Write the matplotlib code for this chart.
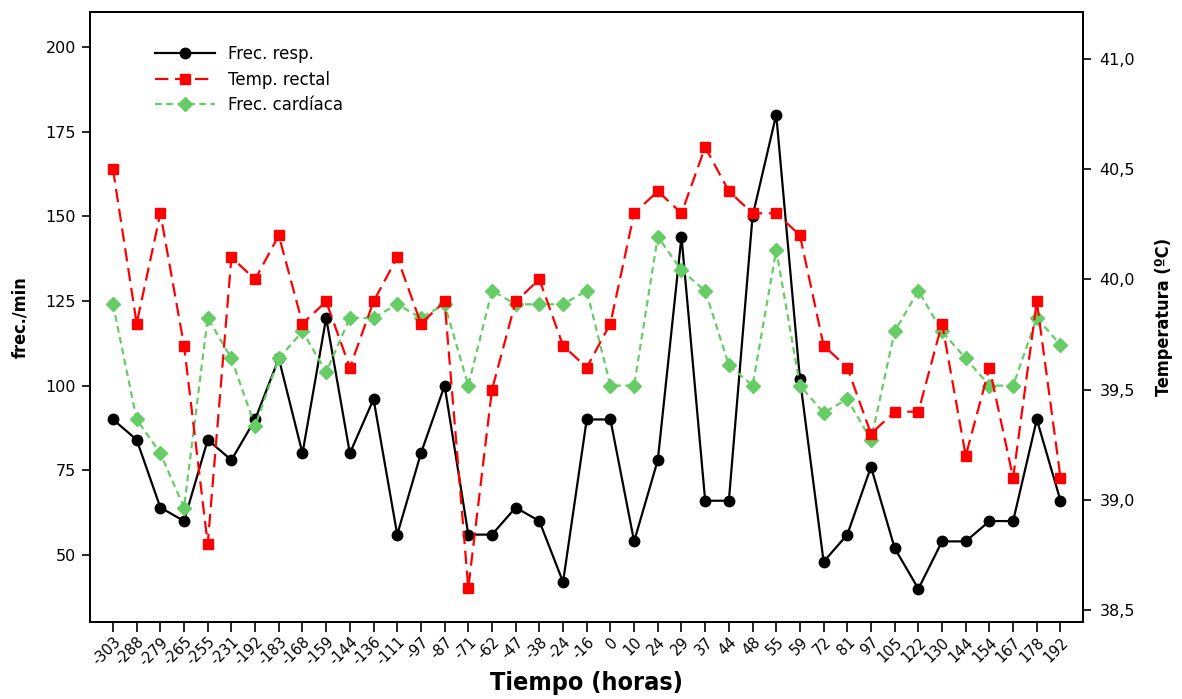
import matplotlib
matplotlib.use("Agg")
import matplotlib.pyplot as plt
from matplotlib.ticker import FuncFormatter

# hours relative to event (categorical axis)
tiempo = ["-303", "-288", "-279", "-265", "-255", "-231", "-192", "-183", "-168", "-159",
          "-144", "-136", "-111", "-97", "-87", "-71", "-62", "-47", "-38", "-24",
          "-16", "0", "10", "24", "29", "37", "44", "48", "55", "59",
          "72", "81", "97", "105", "122", "130", "144", "154", "167", "178", "192"]

frec_resp = [90, 84, 64, 60, 84, 78, 90, 108, 80, 120,
             80, 96, 56, 80, 100, 56, 56, 64, 60, 42,
             90, 90, 54, 78, 144, 66, 66, 150, 180, 102,
             48, 56, 76, 52, 40, 54, 54, 60, 60, 90, 66]

temp_rectal = [40.5, 39.8, 40.3, 39.7, 38.8, 40.1, 40.0, 40.2, 39.8, 39.9,
               39.6, 39.9, 40.1, 39.8, 39.9, 38.6, 39.5, 39.9, 40.0, 39.7,
               39.6, 39.8, 40.3, 40.4, 40.3, 40.6, 40.4, 40.3, 40.3, 40.2,
               39.7, 39.6, 39.3, 39.4, 39.4, 39.8, 39.2, 39.6, 39.1, 39.9, 39.1]

frec_card = [124, 90, 80, 64, 120, 108, 88, 108, 116, 104,
             120, 120, 124, 120, 124, 100, 128, 124, 124, 124,
             128, 100, 100, 144, 134, 128, 106, 100, 140, 100,
             92, 96, 84, 116, 128, 116, 108, 100, 100, 120, 112]

plt.rcParams['font.family'] = ['DejaVu Sans']
x = list(range(len(tiempo)))

fig = plt.figure(figsize=(11.82, 6.99), dpi=100)
ax = fig.add_axes([90 / 1182, 1 - 622 / 699, (1083 - 90) / 1182, (622 - 12) / 699])
ax2 = ax.twinx()

l1, = ax.plot(x, frec_resp, "-", color="black", lw=1.6, marker="o", ms=7.5,
              label="Frec. resp.")
l3, = ax.plot(x, frec_card, "--", color="#66CC66", lw=1.6, marker="D", ms=7.5,
              dashes=(3, 2), label="Frec. cardíaca")
l2, = ax2.plot(x, temp_rectal, "--", color="#FF0000", lw=1.6, marker="s", ms=7.5,
               dashes=(6, 3), label="Temp. rectal")

ax.set_xlim(-0.97, 40.95)
ax.set_ylim(30.2, 210.3)
ax2.set_ylim(38.446, 41.213)

ax.set_yticks([50, 75, 100, 125, 150, 175, 200])
ax2.set_yticks([38.5, 39.0, 39.5, 40.0, 40.5, 41.0])
ax2.yaxis.set_major_formatter(FuncFormatter(lambda v, p: f"{v:.1f}".replace(".", ",")))

ax.set_xticks(x)
ax.set_xticklabels(tiempo, rotation=45, ha="right", rotation_mode="anchor", fontsize=10.5)
ax.tick_params(axis="x", length=7, width=1.2, pad=2)
ax.tick_params(axis="y", labelsize=11.5, length=6, width=1.2, pad=4)
ax2.tick_params(axis="y", labelsize=11.5, length=6, width=1.2, pad=6)

for a in (ax, ax2):
    for s in a.spines.values():
        s.set_linewidth(1.3)

ax.set_xlabel("Tiempo (horas)", fontsize=18, fontweight="bold", fontstretch="condensed", labelpad=2)
ax.set_ylabel("frec./min", fontsize=13, fontweight="bold", fontstretch="condensed", labelpad=12)
ax2.set_ylabel("Temperatura (ºC)", fontsize=13, fontweight="bold", fontstretch="condensed", labelpad=14)

ax.legend(handles=[l1, l2, l3], loc="upper left", bbox_to_anchor=(0.05, 0.97),
          frameon=False, fontsize=12, handlelength=3.6, handletextpad=0.8,
          labelspacing=0.45)

fig.savefig("out.png", dpi=100)
